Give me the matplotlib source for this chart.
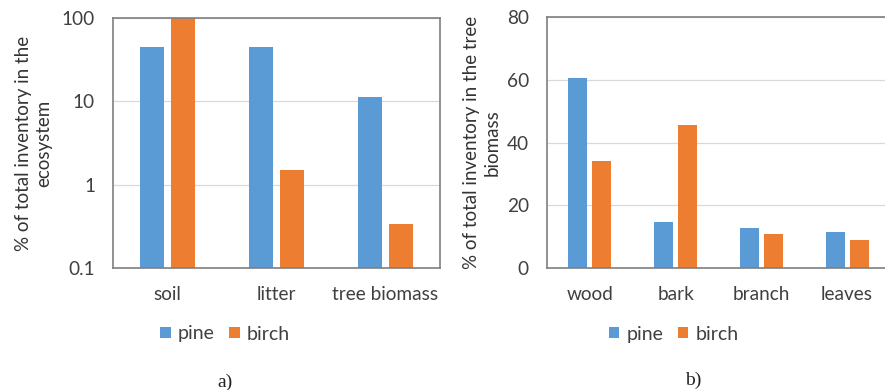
import numpy as np
import matplotlib
matplotlib.use("Agg")
import matplotlib.pyplot as plt

plt.rcParams['font.family'] = ['Lato', 'DejaVu Sans']

# === data ===
eco_cats = ["soil", "litter", "tree biomass"]
eco_pine = [45, 45, 11.4]
eco_birch = [100, 1.5, 0.34]

tree_cats = ["wood", "bark", "branch", "leaves"]
tree_pine = [60.7, 14.8, 12.7, 11.6]
tree_birch = [34.1, 45.5, 10.8, 8.9]

series = ["pine", "birch"]
blue = "#5B9BD5"
orange = "#ED7D31"
txt = "#404040"
frame = "#7f7f7f"
grid = "#d9d9d9"

fig = plt.figure(figsize=(8.85, 3.9), dpi=100)
ax1 = fig.add_axes([113/885, 1-268/390, 327/885, 250/390])
ax2 = fig.add_axes([547/885, 1-268/390, 343/885, 251/390])

def style(ax, cats):
    for s in ax.spines.values():
        s.set_color(frame)
        s.set_linewidth(1.2)
    ax.set_axisbelow(True)
    ax.yaxis.grid(True, color=grid, lw=0.9)
    ax.tick_params(length=0, labelsize=13.7, labelcolor=txt, pad=13)
    ax.tick_params(axis='y', which='minor', length=0)
    ax.set_xticks(range(len(cats)))
    ax.set_xticklabels(cats)
    ax.set_xlim(-0.5, len(cats)-0.5)

# === a) ecosystem, log scale ===
x = np.arange(len(eco_cats))
w = 0.22
ax1.bar(x-0.142, eco_pine, w, color=blue, label=series[0])
ax1.bar(x+0.142, eco_birch, w, color=orange, label=series[1])
ax1.set_yscale("log")
ax1.set_ylim(0.1, 100)
ax1.set_yticks([0.1, 1, 10, 100])
ax1.set_yticklabels(["0.1", "1", "10", "100"])
style(ax1, eco_cats)
ax1.set_ylabel("% of total inventory in the\necosystem", fontsize=13.5, color="#333333", linespacing=1.25)
ax1.yaxis.set_label_coords(-0.185, 0.5)
ax1.legend(loc="center", bbox_to_anchor=(0.343, -0.264), ncol=2, frameon=False,
           fontsize=14, handlelength=0.55, handleheight=0.55, handletextpad=0.35,
           columnspacing=0.75, labelcolor=txt)

# === b) tree biomass ===
x = np.arange(len(tree_cats))
ax2.bar(x-0.14, tree_pine, w, color=blue, label=series[0])
ax2.bar(x+0.14, tree_birch, w, color=orange, label=series[1])
ax2.set_ylim(0, 80)
ax2.set_yticks([0, 20, 40, 60, 80])
style(ax2, tree_cats)
ax2.set_ylabel("% of total inventory in the tree\nbiomass", fontsize=13.5, color="#333333", linespacing=1.25)
ax2.yaxis.set_label_coords(-0.135, 0.5)
ax2.legend(loc="center", bbox_to_anchor=(0.369, -0.263), ncol=2, frameon=False,
           fontsize=14, handlelength=0.55, handleheight=0.55, handletextpad=0.35,
           columnspacing=0.75, labelcolor=txt)

fig.text(225/885, 1-382/390, "a)", ha="center", va="center", fontsize=14,
         family="Liberation Serif", color="#222222")
fig.text(693/885, 1-380/390, "b)", ha="center", va="center", fontsize=14,
         family="Liberation Serif", color="#222222")

fig.savefig("out.png", dpi=100)
